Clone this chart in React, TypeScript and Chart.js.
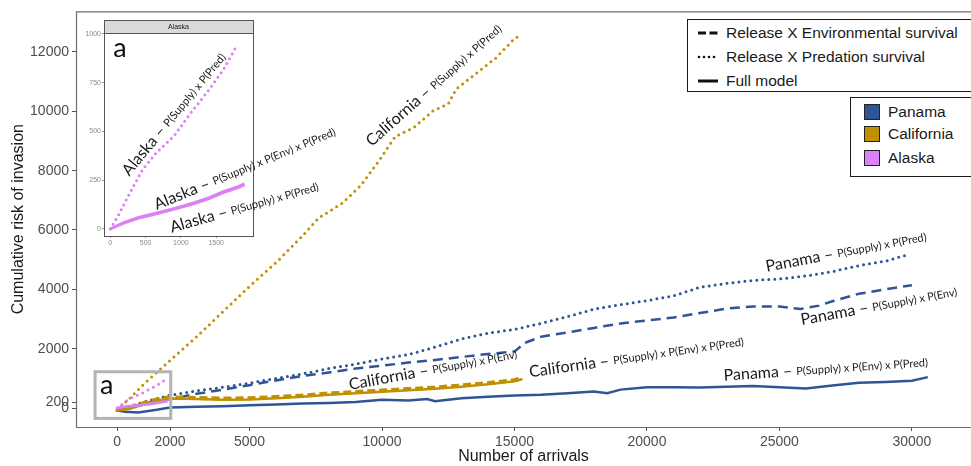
import React, { useEffect, useRef } from 'react';
import { Chart, registerables } from 'chart.js';
Chart.register(...registerables);

// ---------- axis ticks ----------
const X_TICKS = [0, 2000, 5000, 10000, 15000, 20000, 25000, 30000];
const Y_TICKS = [0, 200, 2000, 4000, 6000, 8000, 10000, 12000];
const INSET_X_TICKS = [0, 500, 1000, 1500];
const INSET_Y_TICKS = [0, 250, 500, 750, 1000];

// ---------- Panama ----------
const PANAMA_PRED_X = [0, 1000, 2000, 3000, 4000, 5000, 6000, 7000, 8000, 9000, 10000, 11000, 12000, 13000, 14000, 15000, 16000, 17000, 18000, 19000, 20000, 21000, 22000, 23000, 24000, 25000, 26000, 27000, 28000, 29000, 29900];
const PANAMA_PRED_Y = [-80, 200, 430, 580, 700, 840, 1000, 1150, 1330, 1480, 1650, 1800, 2050, 2330, 2520, 2650, 2850, 3080, 3330, 3480, 3620, 3780, 4070, 4200, 4300, 4350, 4450, 4600, 4800, 4950, 5180];
const PANAMA_ENV_X = [0, 1000, 2000, 3000, 4000, 5000, 6000, 7000, 8000, 9000, 10000, 11000, 12000, 13000, 14000, 15000, 15400, 16000, 17000, 18000, 19000, 20000, 21000, 22000, 23000, 24000, 25000, 25800, 26500, 27000, 28000, 29000, 30000];
const PANAMA_ENV_Y = [-80, 150, 300, 480, 620, 770, 930, 1080, 1200, 1330, 1430, 1530, 1620, 1720, 1820, 1900, 2200, 2400, 2550, 2700, 2850, 2950, 3050, 3200, 3350, 3420, 3420, 3340, 3450, 3600, 3850, 4000, 4140];
const PANAMA_FULL_X = [0, 300, 800, 1500, 2000, 3000, 4000, 5000, 6000, 7000, 8000, 9000, 10000, 11000, 11700, 12000, 13000, 14000, 15000, 16000, 17000, 18000, 18500, 19000, 20000, 21000, 22000, 23000, 24000, 25000, 26000, 27000, 28000, 29000, 30000, 30600];
const PANAMA_FULL_Y = [-80, -130, -150, -60, 20, 40, 60, 90, 120, 150, 170, 200, 280, 250, 300, 230, 330, 380, 420, 450, 500, 560, 500, 620, 700, 700, 690, 720, 740, 700, 660, 760, 850, 880, 920, 1040];

// ---------- California ----------
const CALIF_PRED_X = [0, 500, 1000, 2000, 3000, 4000, 5000, 6000, 7000, 7600, 8500, 9200, 9900, 10500, 11200, 11900, 12500, 12800, 13700, 14300, 15000, 15200];
const CALIF_PRED_Y = [-80, 350, 800, 1600, 2400, 3250, 4100, 4900, 5800, 6400, 6900, 7500, 8350, 9150, 9450, 10000, 10250, 10750, 11380, 11800, 12450, 12550];
const CALIF_X = [0, 500, 1000, 1500, 2000, 3000, 4000, 5000, 6000, 7000, 8000, 9000, 10000, 11000, 12000, 13000, 14000, 15000, 15300];
const CALIF_FULL_Y = [-80, -20, 120, 250, 320, 300, 280, 290, 330, 380, 450, 500, 550, 600, 650, 720, 800, 900, 980];
const CALIF_ENV_Y = [-60, 20, 160, 290, 360, 340, 320, 330, 370, 420, 490, 540, 590, 640, 690, 760, 840, 940, 1010];

// ---------- Alaska ----------
const ALASKA_PRED_X = [0, 100, 300, 450, 650, 900, 1130, 1370, 1600, 1770];
const ALASKA_PRED_Y = [0, 60, 200, 300, 390, 475, 590, 700, 815, 925];
const ALASKA_X = [0, 100, 200, 400, 600, 800, 1000, 1200, 1400, 1600, 1800, 1900];
const ALASKA_FULL_Y = [0, 15, 30, 55, 72, 90, 110, 130, 155, 185, 210, 225];
const ALASKA_ENV_Y = [0, 18, 35, 60, 78, 96, 116, 137, 162, 192, 217, 232];

// ---------- legend / names ----------
const REGIONS = ['Panama', 'California', 'Alaska'];
const REGION_COLORS = ['#2F5597', '#BF9000', '#DA82F5'];
const MODEL_NAMES = ['Release X Environmental survival', 'Release X Predation survival', 'Full model'];

// ---------- annotation texts ----------
const MAIN_LABELS = [
  { x: 9611, y: 8798, angle: -41.5, big: 'California – ', small: 'P(Supply) x P(Pred)' },
  { x: 8792, y: 606, angle: -10.5, big: 'California – ', small: 'P(Supply) x P(Env)' },
  { x: 15585, y: 1034, angle: -8.2, big: 'California – ', small: 'P(Supply) x P(Env) x P(Pred)' },
  { x: 24517, y: 4589, angle: -10.7, big: 'Panama – ', small: 'P(Supply) x P(Pred)' },
  { x: 25838, y: 2795, angle: -10.4, big: 'Panama – ', small: 'P(Supply) x P(Env)' },
  { x: 22906, y: 919, angle: -3.8, big: 'Panama – ', small: 'P(Supply) x P(Env) x P(Pred)' },
];
const INSET_LABELS = [
  { x: 269, y: 268, angle: -50.5, big: 'Alaska – ', small: 'P(Supply) x P(Pred)' },
  { x: 657, y: 97, angle: -22.4, big: 'Alaska – ', small: 'P(Supply) x P(Env) x P(Pred)' },
  { x: 870, y: -19, angle: -15.7, big: 'Alaska – ', small: 'P(Supply) x P(Pred)' },
];

const pts = (xs: number[], ys: number[]) => xs.map((x, i) => ({ x, y: ys[i] }));

const SOLID = { borderWidth: 2.5 };
const DASHED = { borderWidth: 2.5, borderDash: [10, 6] };
const DOTTED = { borderWidth: 3, borderDash: [0, 6], borderCapStyle: 'round' };

const AXIS_FONT = 'Liberation Sans';
const NOTE_FONT = 'Lato';

function drawNote(ctx: CanvasRenderingContext2D, px: number, py: number, angle: number, big: string, small: string, bigSize: number, smallSize: number) {
  ctx.save();
  ctx.translate(px, py);
  ctx.rotate((angle * Math.PI) / 180);
  ctx.fillStyle = '#1a1a1a';
  ctx.textAlign = 'left';
  ctx.textBaseline = 'alphabetic';
  ctx.font = `${bigSize}px ${NOTE_FONT}`;
  ctx.fillText(big, 0, 0);
  const w = ctx.measureText(big).width;
  ctx.font = `${smallSize}px ${NOTE_FONT}`;
  ctx.fillText(small, w, -1);
  ctx.restore();
}

const mainDecor = {
  id: 'mainDecor',
  afterDraw(chart: any) {
    const { ctx, chartArea: a, scales } = chart;
    const xs = scales.x, ys = scales.y;
    ctx.save();
    ctx.strokeStyle = '#6e6e6e';
    ctx.lineWidth = 1.2;
    ctx.beginPath();
    ctx.moveTo(a.right + 5, a.top + 0.5);
    ctx.lineTo(a.left + 0.5, a.top + 0.5);
    ctx.lineTo(a.left + 0.5, a.bottom + 0.5);
    ctx.lineTo(a.right + 5, a.bottom + 0.5);
    ctx.stroke();
    // zoom box "a"
    const bx0 = xs.getPixelForValue(-830), bx1 = xs.getPixelForValue(2026);
    const by0 = ys.getPixelForValue(1222), by1 = ys.getPixelForValue(-350);
    ctx.strokeStyle = '#b4b4b4';
    ctx.lineWidth = 3;
    ctx.strokeRect(bx0, by0, bx1 - bx0, by1 - by0);
    ctx.fillStyle = '#111';
    ctx.font = `27px ${NOTE_FONT}`;
    ctx.textBaseline = 'alphabetic';
    ctx.fillText('a', bx0 + 5, by0 + 22);
    ctx.restore();
    for (const l of MAIN_LABELS) {
      drawNote(ctx, xs.getPixelForValue(l.x), ys.getPixelForValue(l.y), l.angle, l.big, l.small, 16, 11);
    }
  },
};

const insetDecor = {
  id: 'insetDecor',
  afterDraw(chart: any) {
    const { ctx, chartArea: a, scales } = chart;
    ctx.save();
    ctx.strokeStyle = '#555';
    ctx.lineWidth = 1;
    ctx.strokeRect(a.left + 0.5, a.top + 0.5, a.right - a.left, a.bottom - a.top);
    ctx.fillStyle = '#d9d9d9';
    ctx.fillRect(a.left + 0.5, a.top - 12.5, a.right - a.left, 13);
    ctx.strokeRect(a.left + 0.5, a.top - 12.5, a.right - a.left, 13);
    ctx.fillStyle = '#1a1a1a';
    ctx.font = `7px ${AXIS_FONT}`;
    ctx.textAlign = 'center';
    ctx.textBaseline = 'middle';
    ctx.fillText('Alaska', (a.left + a.right) / 2, a.top - 6);
    ctx.textAlign = 'left';
    ctx.textBaseline = 'alphabetic';
    ctx.font = `27px ${NOTE_FONT}`;
    ctx.fillStyle = '#111';
    ctx.fillText('a', scales.x.getPixelForValue(42), scales.y.getPixelForValue(883));
    ctx.restore();
    for (const l of INSET_LABELS) {
      drawNote(ctx, scales.x.getPixelForValue(l.x), scales.y.getPixelForValue(l.y), l.angle, l.big, l.small, 16, 11);
    }
  },
};

function mainConfig(): any {
  const [cP, cC, cA] = REGION_COLORS;
  return {
    type: 'line',
    data: {
      datasets: [
        { label: 'Alaska pred', data: pts(ALASKA_PRED_X, ALASKA_PRED_Y), borderColor: cA, ...DOTTED },
        { label: 'Alaska env', data: pts(ALASKA_X, ALASKA_ENV_Y), borderColor: cA, ...SOLID },
        { label: 'Alaska full', data: pts(ALASKA_X, ALASKA_FULL_Y), borderColor: cA, ...SOLID },
        { label: 'California env', data: pts(CALIF_X, CALIF_ENV_Y), borderColor: cC, borderWidth: 4, borderDash: [8, 4] },
        { label: 'California full', data: pts(CALIF_X, CALIF_FULL_Y), borderColor: cC, ...SOLID },
        { label: 'California pred', data: pts(CALIF_PRED_X, CALIF_PRED_Y), borderColor: cC, ...DOTTED },
        { label: 'Panama full', data: pts(PANAMA_FULL_X, PANAMA_FULL_Y), borderColor: cP, ...SOLID },
        { label: 'Panama env', data: pts(PANAMA_ENV_X, PANAMA_ENV_Y), borderColor: cP, ...DASHED },
        { label: 'Panama pred', data: pts(PANAMA_PRED_X, PANAMA_PRED_Y), borderColor: cP, ...DOTTED },
      ],
    },
    options: {
      responsive: false,
      animation: false,
      devicePixelRatio: 1,
      layout: { padding: { top: 11, right: 0, left: 0, bottom: 0 } },
      elements: { point: { radius: 0 }, line: { tension: 0, fill: false } },
      plugins: { legend: { display: false }, tooltip: { enabled: false } },
      scales: {
        x: {
          type: 'linear',
          min: -1550,
          max: 32230,
          afterBuildTicks: (s: any) => { s.ticks = X_TICKS.map((v) => ({ value: v })); },
          afterFit: (s: any) => { s.height = 39; },
          ticks: { color: '#4d4d4d', font: { family: AXIS_FONT, size: 14 }, padding: 3, autoSkip: false, maxRotation: 0, callback: (v: any) => String(v) },
          grid: { drawOnChartArea: false, tickLength: 4, color: '#555' },
          border: { display: false },
          title: { display: true, text: 'Number of arrivals', color: '#1a1a1a', font: { family: AXIS_FONT, size: 16 }, padding: { top: 0, bottom: 0 } },
        },
        y: {
          type: 'linear',
          min: -640,
          max: 13367,
          afterBuildTicks: (s: any) => { s.ticks = Y_TICKS.map((v) => ({ value: v })); },
          afterFit: (s: any) => { s.width = 76; },
          ticks: { color: '#4d4d4d', font: { family: AXIS_FONT, size: 14 }, padding: 3, autoSkip: false, callback: (v: any) => String(v) },
          grid: { drawOnChartArea: false, tickLength: 4, color: '#555' },
          border: { display: false },
          title: { display: true, text: 'Cumulative risk of invasion', color: '#1a1a1a', font: { family: AXIS_FONT, size: 16 }, padding: { top: 9, bottom: 0 } },
        },
      },
    },
    plugins: [mainDecor],
  };
}

function insetConfig(): any {
  const cA = REGION_COLORS[2];
  return {
    type: 'line',
    data: {
      datasets: [
        { label: 'Alaska pred', data: pts(ALASKA_PRED_X, ALASKA_PRED_Y), borderColor: cA, borderWidth: 3, borderDash: [0, 5.5], borderCapStyle: 'round' },
        { label: 'Alaska env', data: pts(ALASKA_X, ALASKA_ENV_Y), borderColor: cA, borderWidth: 2.5 },
        { label: 'Alaska full', data: pts(ALASKA_X, ALASKA_FULL_Y), borderColor: cA, borderWidth: 2.5 },
      ],
    },
    options: {
      responsive: false,
      animation: false,
      devicePixelRatio: 1,
      layout: { padding: { top: 17, right: 107, left: 0, bottom: 0 } },
      elements: { point: { radius: 0 }, line: { tension: 0, fill: false } },
      plugins: { legend: { display: false }, tooltip: { enabled: false } },
      scales: {
        x: {
          type: 'linear', min: -89, max: 2021,
          afterBuildTicks: (s: any) => { s.ticks = INSET_X_TICKS.map((v) => ({ value: v })); },
          afterFit: (s: any) => { s.height = 16; },
          ticks: { color: '#8a8a8a', font: { family: AXIS_FONT, size: 7 }, padding: 1, autoSkip: false, maxRotation: 0, callback: (v: any) => String(v) },
          grid: { drawOnChartArea: false, tickLength: 2, color: '#999' },
          border: { display: false },
        },
        y: {
          type: 'linear', min: -36, max: 1004,
          afterBuildTicks: (s: any) => { s.ticks = INSET_Y_TICKS.map((v) => ({ value: v })); },
          afterFit: (s: any) => { s.width = 24; },
          ticks: { color: '#8a8a8a', font: { family: AXIS_FONT, size: 7 }, padding: 1, autoSkip: false, callback: (v: any) => String(v) },
          grid: { drawOnChartArea: false, tickLength: 2, color: '#999' },
          border: { display: false },
        },
      },
    },
    plugins: [insetDecor],
  };
}

const textStyle: React.CSSProperties = { position: 'absolute', fontFamily: AXIS_FONT, fontSize: 15.5, color: '#1a1a1a', lineHeight: '16px', whiteSpace: 'nowrap' };

export default function App() {
  const mainRef = useRef<HTMLCanvasElement>(null);
  const insetRef = useRef<HTMLCanvasElement>(null);
  useEffect(() => {
    const main = new Chart(mainRef.current as HTMLCanvasElement, mainConfig());
    const inset = new Chart(insetRef.current as HTMLCanvasElement, insetConfig());
    return () => { main.destroy(); inset.destroy(); };
  }, []);
  const modelRows = [33, 57, 81];
  const regionRows = [112, 134, 158];
  return (
    <div style={{ position: 'absolute', left: 0, top: 0, width: 971, height: 466, overflow: 'hidden', background: '#fff' }}>
      <canvas ref={mainRef} width={971} height={466} style={{ position: 'absolute', left: 0, top: 0 }} />
      <canvas ref={insetRef} width={280} height={236} style={{ position: 'absolute', left: 80, top: 16 }} />
      {/* line-type legend */}
      <div style={{ position: 'absolute', left: 687, top: 19, width: 300, height: 73, border: '1px solid #1a1a1a', boxSizing: 'border-box', background: '#fff' }} />
      <svg style={{ position: 'absolute', left: 697, top: modelRows[0] - 3 }} width={22} height={6}>
        <rect x={1} y={1.5} width={8} height={3} fill="#111" />
        <rect x={12.5} y={1.5} width={8} height={3} fill="#111" />
      </svg>
      <svg style={{ position: 'absolute', left: 697, top: modelRows[1] - 3 }} width={22} height={6}>
        {[2, 7, 12, 17].map((cx) => <circle key={cx} cx={cx} cy={3} r={1.3} fill="#111" />)}
      </svg>
      <svg style={{ position: 'absolute', left: 697, top: modelRows[2] - 3 }} width={22} height={6}>
        <rect x={1} y={1.5} width={20} height={3} fill="#111" />
      </svg>
      {MODEL_NAMES.map((n, i) => (
        <span key={n} style={{ ...textStyle, left: 726, top: modelRows[i] - 8 }}>{n}</span>
      ))}
      {/* colour legend */}
      <div style={{ position: 'absolute', left: 850, top: 97, width: 140, height: 80, border: '1px solid #1a1a1a', boxSizing: 'border-box', background: '#fff' }} />
      {REGIONS.map((r, i) => (
        <React.Fragment key={r}>
          <div style={{ position: 'absolute', left: 864, top: regionRows[i] - 8, width: 16, height: 16, background: REGION_COLORS[i], border: '1px solid #222', boxSizing: 'border-box' }} />
          <span style={{ ...textStyle, left: 888, top: regionRows[i] - 8 }}>{r}</span>
        </React.Fragment>
      ))}
    </div>
  );
}
